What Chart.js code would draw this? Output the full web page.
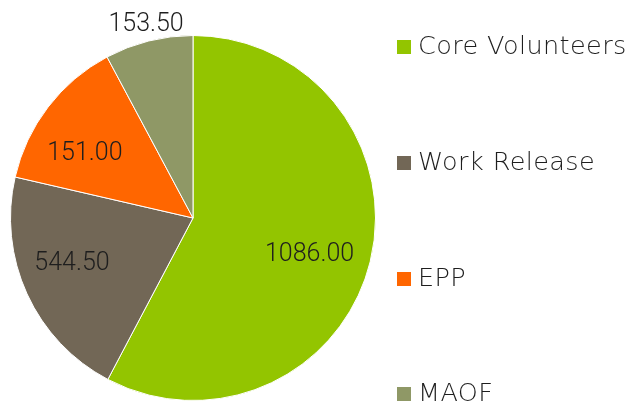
<!DOCTYPE html>
<html>
<head>
<meta charset="utf-8">
<script src="https://cdn.jsdelivr.net/npm/chart.js@4/dist/chart.umd.min.js"></script>
<style>
  body { margin: 0; background: #fff; }
  #wrap { position: relative; width: 630px; height: 403px; }
  #legend { position: absolute; left: 0; top: 0; width: 630px; height: 403px; pointer-events: none; }
  .item { position: absolute; left: 397px; height: 30px; display: flex; align-items: center;
          font-family: "DejaVu Sans", sans-serif; font-weight: 300; font-size: 25.5px; letter-spacing: 0.4px;
          color: #1e1e1e; white-space: nowrap; }
  .box { width: 14px; height: 14px; margin-right: 7px; margin-top: 3px; }
</style>
</head>
<body>
<div id="wrap">
  <canvas id="grafico" width="630" height="403"></canvas>
  <div id="legend"></div>
</div>
<script>
const categorias = ['Core Volunteers', 'Work Release', 'EPP', 'MAOF'];
const valores = [1117, 404, 263, 151];
// textos dos rotulos como aparecem no grafico
const rotulos = ['1086.00', '544.50', '151.00', '153.50'];
const cores = ['#93c500', '#726756', '#ff6600', '#8f9866'];

// posicao dos rotulos (fracao do raio, desvio do angulo em graus)
const rotuloRaio = [0.67, 0.71, 0.69, 1.09];
const rotuloDesvio = [3.7, 3.7, -6.6, 0.4];

const rotulosPlugin = {
    id: 'rotulos',
    afterDatasetsDraw(chart) {
        const ctx = chart.ctx;
        const meta = chart.getDatasetMeta(0);
        ctx.save();
        ctx.font = '300 25px Roboto, sans-serif';
        ctx.fillStyle = '#1e1e1e';
        ctx.textAlign = 'center';
        ctx.textBaseline = 'middle';
        meta.data.forEach((arc, i) => {
            const mid = (arc.startAngle + arc.endAngle) / 2 + rotuloDesvio[i] * Math.PI / 180;
            const r = arc.outerRadius * rotuloRaio[i];
            const x = arc.x + Math.cos(mid) * r;
            const y = arc.y + Math.sin(mid) * r;
            ctx.fillText(rotulos[i], x, y);
        });
        ctx.restore();
    }
};

const config = {
    type: 'pie',
    data: {
        labels: categorias,
        datasets: [{
            data: valores,
            backgroundColor: cores,
            borderColor: '#ffffff',
            borderWidth: 1
        }]
    },
    options: {
        responsive: false,
        animation: false,
        layout: { padding: { left: 10, top: 35, right: 254, bottom: 2 } },
        plugins: {
            legend: { display: false },
            tooltip: { enabled: false }
        }
    },
    plugins: [rotulosPlugin]
};

new Chart(document.getElementById('grafico').getContext('2d'), config);

// legenda em html
const legenda = document.getElementById('legend');
const topos = [45, 161, 277, 392];
categorias.forEach((nome, i) => {
    const item = document.createElement('div');
    item.className = 'item';
    item.style.top = (topos[i] - 15) + 'px';
    const box = document.createElement('span');
    box.className = 'box';
    box.style.background = cores[i];
    const txt = document.createElement('span');
    txt.textContent = nome;
    item.appendChild(box);
    item.appendChild(txt);
    legenda.appendChild(item);
});
</script>
</body>
</html>
